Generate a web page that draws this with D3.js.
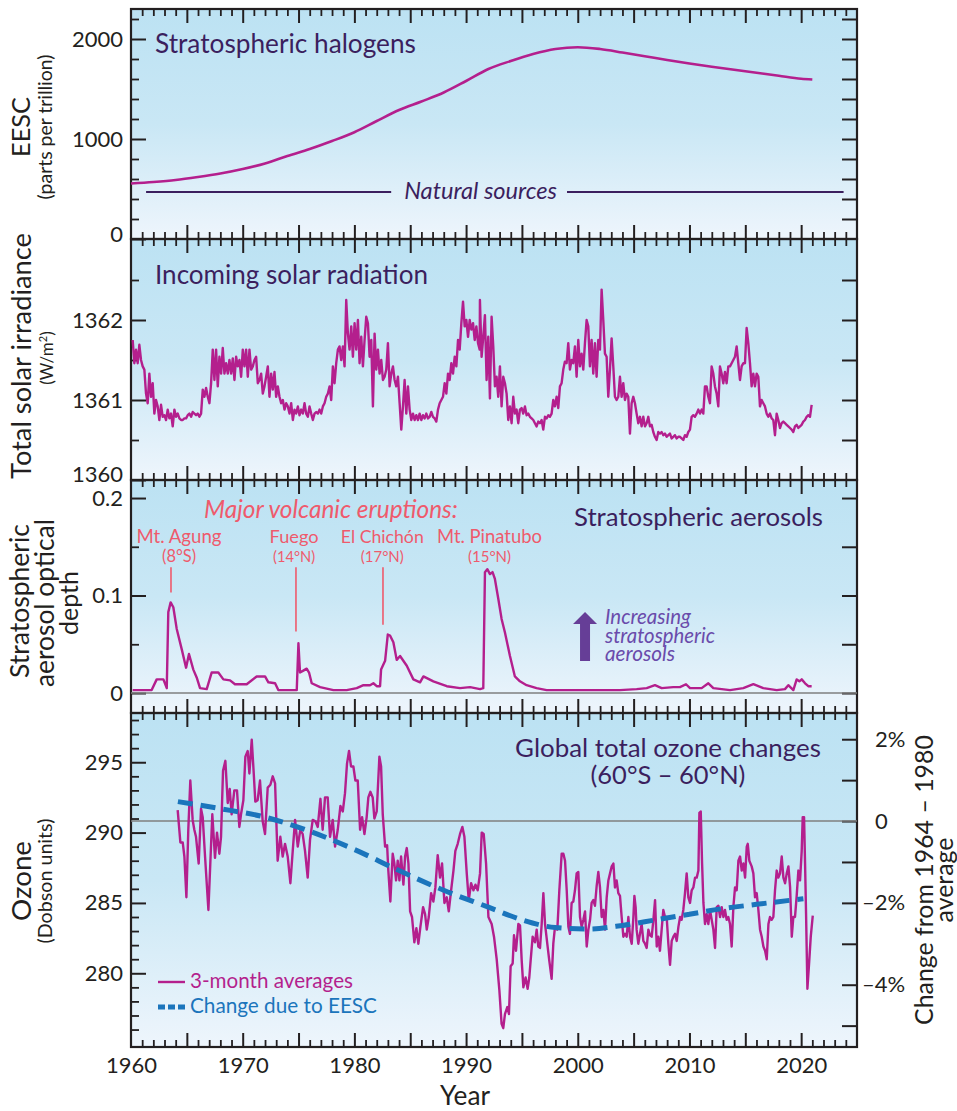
<!DOCTYPE html>
<html><head><meta charset="utf-8">
<script src="https://cdn.jsdelivr.net/npm/d3@7"></script>
<style>
body{margin:0;background:#fff;}
svg{display:block;font-family:Lato,"Open Sans",sans-serif;}
</style></head><body>
<svg id="chart" width="957" height="1111"></svg>
<script>
// ---------------- DATA ----------------
const eescYears  = [1960,1962,1964,1966,1968,1970,1972,1974,1976,1978,1980,1982,1984,1986,1988,1990,1992,1994,1996,1998,2000,2002,2004,2006,2008,2010,2012,2014,2016,2018,2020,2021];
const eescValues = [555,570,590,620,655,700,755,830,900,980,1068,1180,1290,1375,1465,1580,1700,1780,1850,1900,1918,1900,1865,1828,1790,1755,1722,1692,1662,1632,1603,1595];
const naturalEESC = 470;
const naturalSpan = [1961.35, 2023.8];

// Total solar irradiance, evenly sampled within each span
const tsiSpanEarly = [1960.15, 1991.22];
const tsiEarly = [1361.75,1361.46,1361.63,1361.46,1361.69,1361.50,1361.42,1361.38,1361.08,1360.96,1361.33,1361.04,1361.21,1360.83,1361.00,1360.92,1360.75,1360.94,1360.79,1360.81,1360.75,1360.88,1360.77,1360.83,1360.67,1360.88,1360.79,1360.83,1360.77,1360.75,1360.75,1360.77,1360.77,1360.81,1360.83,1360.79,1360.85,1360.83,1360.81,1360.83,1360.79,1360.83,1361.13,1361.04,1361.15,1361.04,1360.96,1361.21,1361.63,1361.25,1361.63,1361.17,1361.54,1361.33,1361.65,1361.33,1361.46,1361.33,1361.50,1361.33,1361.52,1361.25,1361.54,1361.42,1361.50,1361.29,1361.63,1361.42,1361.63,1361.29,1361.63,1361.38,1361.42,1361.50,1361.54,1361.21,1361.25,1361.33,1361.08,1361.17,1361.29,1361.42,1361.04,1361.33,1361.13,1361.35,1361.04,1361.17,1361.04,1360.96,1361.00,1360.88,1360.96,1360.92,1360.83,1360.96,1360.75,1360.88,1360.83,1360.92,1360.81,1360.88,1360.83,1360.96,1360.83,1360.79,1360.92,1360.83,1360.75,1360.83,1360.85,1360.83,1360.88,1360.83,1360.92,1360.96,1361.04,1361.08,1361.17,1361.00,1361.42,1361.21,1361.46,1361.63,1361.67,1361.50,1361.67,1361.42,1362.25,1361.83,1361.63,1361.92,1361.54,1361.96,1361.63,1362.00,1361.46,1361.79,1361.42,1361.75,1362.04,1361.96,1361.54,1361.75,1360.92,1361.83,1361.38,1361.63,1361.33,1361.50,1361.25,1361.29,1361.38,1361.71,1361.17,1361.33,1361.42,1361.25,1361.17,1361.29,1360.96,1360.63,1360.92,1361.25,1360.83,1361.17,1360.88,1360.75,1360.83,1360.75,1360.81,1360.75,1360.83,1360.75,1360.81,1360.77,1360.83,1360.77,1360.79,1360.85,1360.79,1360.77,1360.73,1360.88,1360.96,1361.00,1361.04,1361.21,1361.08,1361.33,1361.25,1361.46,1361.33,1361.54,1361.42,1361.75,1361.63,1361.96,1362.23,1361.92,1362.00,1361.79,1362.00,1361.88,1361.96,1361.75,1361.92,1361.71,1361.63];
const tsiSpanLate = [1991.24, 2020.94];
const tsiLate = [1362.25,1361.54,1361.79,1362.06,1361.25,1361.79,1361.02,1362.04,1361.67,1361.17,1361.29,1361.04,1361.42,1360.92,1361.29,1361.21,1361.08,1360.75,1360.92,1360.71,1361.04,1360.83,1360.88,1360.71,1360.88,1360.90,1360.83,1360.92,1360.81,1360.83,1360.79,1360.77,1360.75,1360.71,1360.67,1360.73,1360.71,1360.75,1360.63,1360.79,1360.77,1360.81,1360.79,1360.83,1361.00,1360.92,1361.04,1360.90,1361.17,1361.21,1361.38,1361.48,1361.46,1361.71,1361.38,1361.50,1361.46,1361.67,1361.29,1361.75,1361.42,1361.58,1361.38,1361.71,1362.00,1361.92,1361.42,1361.75,1361.33,1361.71,1361.29,1361.75,1361.63,1362.38,1362.00,1361.58,1361.54,1361.04,1361.38,1361.77,1361.42,1361.04,1361.00,1361.04,1361.29,1361.04,1361.21,1361.00,1361.08,1361.04,1360.58,1360.96,1361.04,1360.96,1360.83,1360.71,1360.79,1360.67,1360.79,1360.67,1360.71,1360.79,1360.67,1360.69,1360.60,1360.54,1360.50,1360.60,1360.58,1360.60,1360.56,1360.58,1360.54,1360.56,1360.58,1360.52,1360.54,1360.56,1360.52,1360.54,1360.54,1360.52,1360.50,1360.56,1360.54,1360.60,1360.63,1360.79,1360.81,1360.79,1360.83,1360.88,1360.83,1360.88,1360.83,1361.17,1361.17,1361.04,1360.96,1361.42,1361.33,1361.17,1361.08,1360.92,1361.42,1361.33,1361.21,1361.35,1361.21,1361.42,1361.42,1361.46,1361.50,1361.54,1361.67,1361.46,1361.25,1361.42,1361.46,1361.46,1361.90,1361.71,1361.46,1361.17,1361.33,1361.17,1361.33,1361.29,1360.92,1361.00,1360.96,1360.92,1360.83,1360.79,1360.83,1360.77,1360.75,1360.56,1360.83,1360.75,1360.65,1360.71,1360.73,1360.71,1360.69,1360.67,1360.65,1360.63,1360.60,1360.67,1360.69,1360.65,1360.67,1360.69,1360.73,1360.75,1360.79,1360.81,1360.79,1360.94];

// Stratospheric aerosol optical depth [year, AOD]
const aerosolAOD = [[1960.15,0.003],[1961.85,0.003],[1962.3,0.014],[1962.9,0.014],[1963.2,0.005],[1963.34,0.083],[1963.55,0.093],[1963.79,0.088],[1964.09,0.066],[1964.54,0.045],[1964.93,0.026],[1965.19,0.040],[1965.58,0.024],[1965.88,0.016],[1966.18,0.005],[1966.78,0.004],[1967.22,0.021],[1967.82,0.021],[1968.27,0.014],[1968.87,0.013],[1969.31,0.009],[1970.36,0.009],[1971.25,0.017],[1972.0,0.017],[1972.3,0.011],[1972.9,0.010],[1973.19,0.003],[1974.84,0.003],[1974.99,0.051],[1975.13,0.021],[1975.43,0.023],[1975.73,0.025],[1975.94,0.021],[1976.18,0.010],[1976.93,0.006],[1978.12,0.003],[1979.31,0.003],[1980.21,0.005],[1980.81,0.008],[1981.4,0.008],[1981.7,0.010],[1982.0,0.007],[1982.3,0.007],[1982.39,0.024],[1982.75,0.033],[1982.99,0.060],[1983.19,0.059],[1983.49,0.052],[1983.79,0.034],[1984.09,0.038],[1984.69,0.028],[1985.28,0.014],[1985.88,0.011],[1986.18,0.017],[1987.07,0.012],[1988.27,0.007],[1989.46,0.005],[1990.36,0.006],[1991.25,0.004],[1991.54,0.005],[1991.69,0.124],[1991.9,0.127],[1992.14,0.122],[1992.37,0.124],[1992.58,0.117],[1992.88,0.097],[1993.18,0.076],[1993.48,0.062],[1993.93,0.038],[1994.37,0.017],[1994.82,0.012],[1995.42,0.008],[1996.31,0.005],[1997.21,0.003],[1998.7,0.003],[2000.2,0.003],[2001.69,0.003],[2003.78,0.003],[2005.27,0.004],[2006.17,0.005],[2006.91,0.008],[2007.51,0.005],[2008.55,0.006],[2009.15,0.006],[2009.69,0.009],[2010.05,0.005],[2011.09,0.005],[2011.69,0.010],[2012.14,0.005],[2013.63,0.003],[2014.82,0.005],[2015.72,0.009],[2016.61,0.005],[2017.81,0.003],[2018.55,0.004],[2018.85,0.008],[2019.3,0.003],[2019.6,0.014],[2019.84,0.012],[2020.05,0.014],[2020.35,0.010],[2020.64,0.007],[2020.94,0.007]];

const eruptionNames = ["Mt. Agung","Fuego","El Chichón","Mt. Pinatubo"];
const eruptionLats  = ["(8°S)","(14°N)","(17°N)","(15°N)"];
const eruptionYears = [1963.58,1974.77,1982.56,null];
const eruptionLabelYears = [1964.3,1974.6,1982.5,1992.1];
const eruptionLineTop = 0.129;
const eruptionLineBottom = [0.103,0.063,0.070,null];

// Ozone 3-month averages [year, DU]
const ozone3mo = [[1964.18,291.6],[1964.42,289.3],[1964.63,289.3],[1964.78,288.3],[1964.96,285.4],[1965.13,290.2],[1965.31,293.7],[1965.52,290.9],[1965.67,290.2],[1965.82,289.7],[1966.06,287.8],[1966.27,291.7],[1966.42,291.1],[1966.63,288.3],[1966.93,284.5],[1967.10,287.8],[1967.28,291.3],[1967.52,288.2],[1967.70,290.0],[1967.91,288.5],[1968.06,289.7],[1968.24,294.4],[1968.45,295.1],[1968.66,292.1],[1968.84,293.1],[1969.01,291.3],[1969.25,293.0],[1969.49,293.0],[1969.70,290.4],[1969.85,291.3],[1970.06,292.3],[1970.24,295.4],[1970.45,295.8],[1970.60,294.2],[1970.81,296.6],[1970.99,294.2],[1971.13,292.2],[1971.34,292.3],[1971.55,293.7],[1971.79,290.8],[1972.00,289.9],[1972.24,293.2],[1972.48,293.4],[1972.69,294.0],[1972.90,293.5],[1973.13,288.0],[1973.37,289.7],[1973.58,288.3],[1973.79,289.2],[1974.03,288.3],[1974.27,286.4],[1974.48,288.7],[1974.69,290.9],[1974.93,289.0],[1975.16,290.2],[1975.37,289.9],[1975.58,288.7],[1975.82,286.8],[1976.03,289.5],[1976.27,290.9],[1976.51,290.8],[1976.72,290.4],[1976.96,292.4],[1977.16,290.2],[1977.37,292.5],[1977.61,292.5],[1977.82,289.7],[1978.06,290.9],[1978.27,289.0],[1978.51,290.2],[1978.75,291.9],[1978.96,291.5],[1979.16,292.8],[1979.34,294.9],[1979.52,295.8],[1979.70,294.7],[1979.91,294.7],[1980.09,293.7],[1980.30,293.7],[1980.51,290.2],[1980.69,291.1],[1980.90,289.9],[1981.10,291.1],[1981.25,292.5],[1981.43,292.9],[1981.64,292.5],[1981.79,291.0],[1982.00,291.5],[1982.24,295.4],[1982.39,294.7],[1982.54,291.3],[1982.75,289.0],[1982.93,289.1],[1983.04,287.3],[1983.22,285.1],[1983.43,288.5],[1983.58,287.8],[1983.73,286.6],[1983.88,288.0],[1984.03,286.6],[1984.18,288.3],[1984.39,286.3],[1984.54,288.3],[1984.69,288.9],[1984.84,287.8],[1984.99,284.4],[1985.16,284.0],[1985.37,282.2],[1985.55,283.2],[1985.73,282.1],[1985.91,283.3],[1986.15,284.7],[1986.33,284.2],[1986.48,283.1],[1986.66,284.0],[1986.87,285.7],[1987.07,285.1],[1987.25,286.1],[1987.46,288.4],[1987.67,286.8],[1987.85,287.8],[1988.06,285.0],[1988.27,285.4],[1988.45,284.4],[1988.66,285.9],[1988.87,287.3],[1989.04,288.7],[1989.25,289.2],[1989.46,289.9],[1989.67,290.4],[1989.85,289.7],[1990.06,287.1],[1990.24,285.2],[1990.45,286.4],[1990.66,285.9],[1990.84,286.3],[1991.04,285.9],[1991.25,287.1],[1991.40,290.0],[1991.58,289.9],[1991.79,287.8],[1992.00,284.0],[1992.29,283.5],[1992.50,282.6],[1992.74,281.0],[1992.98,278.8],[1993.18,276.4],[1993.33,276.1],[1993.48,277.1],[1993.69,277.6],[1993.84,277.1],[1993.99,280.5],[1994.17,280.7],[1994.29,282.7],[1994.47,281.6],[1994.68,283.5],[1994.83,283.4],[1994.98,280.9],[1995.13,279.0],[1995.33,279.7],[1995.51,278.9],[1995.66,279.7],[1995.78,280.9],[1995.96,282.6],[1996.17,282.2],[1996.32,283.1],[1996.47,281.9],[1996.62,281.8],[1996.77,283.5],[1996.92,285.7],[1997.07,283.5],[1997.27,282.1],[1997.45,280.9],[1997.66,279.6],[1997.81,282.1],[1997.96,283.3],[1998.17,283.1],[1998.35,285.9],[1998.56,288.5],[1998.71,288.5],[1998.86,288.0],[1999.01,285.9],[1999.16,283.3],[1999.30,282.8],[1999.45,285.0],[1999.60,285.1],[1999.75,285.9],[1999.90,287.1],[2000.05,287.2],[2000.20,284.0],[2000.35,283.3],[2000.50,283.8],[2000.65,284.4],[2000.80,281.9],[2000.95,283.1],[2001.10,283.8],[2001.24,285.0],[2001.39,285.2],[2001.54,284.8],[2001.69,286.2],[2001.84,287.2],[2001.99,286.1],[2002.14,284.0],[2002.29,284.5],[2002.44,283.1],[2002.59,285.4],[2002.74,286.6],[2002.89,287.1],[2003.04,287.6],[2003.19,287.8],[2003.33,286.1],[2003.48,286.6],[2003.63,285.7],[2003.78,285.5],[2003.93,284.0],[2004.08,282.6],[2004.23,282.8],[2004.38,282.6],[2004.53,284.0],[2004.68,282.6],[2004.83,282.1],[2004.98,284.0],[2005.07,285.5],[2005.18,284.7],[2005.27,283.1],[2005.42,282.1],[2005.57,282.8],[2005.72,283.5],[2005.87,282.3],[2006.02,282.1],[2006.17,281.8],[2006.32,283.1],[2006.47,282.7],[2006.62,282.6],[2006.77,283.8],[2006.92,285.2],[2007.07,281.9],[2007.21,282.6],[2007.36,281.6],[2007.51,283.1],[2007.66,284.5],[2007.81,284.0],[2007.96,284.0],[2008.11,282.1],[2008.26,280.6],[2008.41,282.3],[2008.56,282.6],[2008.71,282.8],[2008.86,282.3],[2009.01,283.3],[2009.16,284.0],[2009.30,283.8],[2009.45,284.5],[2009.60,285.7],[2009.75,287.1],[2009.90,285.4],[2010.05,285.0],[2010.20,285.9],[2010.35,286.1],[2010.50,286.8],[2010.65,286.8],[2010.80,287.3],[2010.89,291.4],[2011.01,291.5],[2011.13,287.8],[2011.25,285.0],[2011.39,283.5],[2011.54,284.2],[2011.69,283.5],[2011.84,284.5],[2011.99,283.8],[2012.14,283.1],[2012.29,281.8],[2012.44,284.7],[2012.59,284.8],[2012.74,284.0],[2012.89,284.7],[2013.04,284.0],[2013.18,284.5],[2013.33,283.8],[2013.48,284.0],[2013.63,283.5],[2013.78,281.9],[2013.93,284.7],[2014.08,286.1],[2014.23,285.9],[2014.38,288.0],[2014.53,288.3],[2014.68,287.3],[2014.83,287.8],[2014.98,286.8],[2015.13,289.0],[2015.22,289.2],[2015.36,288.0],[2015.57,287.6],[2015.72,287.1],[2015.87,285.4],[2016.02,285.7],[2016.17,284.5],[2016.32,283.1],[2016.47,282.6],[2016.62,281.9],[2016.77,281.6],[2016.92,281.0],[2017.07,283.5],[2017.21,284.0],[2017.36,283.8],[2017.51,284.0],[2017.66,285.9],[2017.81,287.3],[2017.96,286.8],[2018.11,287.1],[2018.26,288.3],[2018.41,286.8],[2018.56,286.4],[2018.71,287.1],[2018.86,287.6],[2019.01,286.1],[2019.16,282.6],[2019.30,284.0],[2019.45,284.0],[2019.60,285.5],[2019.75,287.3],[2019.90,286.6],[2020.05,288.7],[2020.14,291.1],[2020.26,291.1],[2020.35,287.8],[2020.44,284.2],[2020.56,278.9],[2020.71,280.7],[2020.86,282.6],[2021.04,284.1]];

// Ozone change expected from EESC [year, DU]
const ozoneEESC = [[1964.2,292.2],[1968,291.7],[1972,291.1],[1976,290.1],[1980,288.8],[1984,287.3],[1988,285.9],[1992,284.7],[1995,283.8],[1998,283.25],[2001,283.15],[2004,283.4],[2007,283.8],[2010,284.2],[2013,284.6],[2016,284.9],[2020.2,285.3]];
const ozoneBaseline = 290.82; // 1964–1980 average (DU)

// Tick values
const yearLabels = [1960,1970,1980,1990,2000,2010,2020];
const eescTicks = [0,1000,2000];
const tsiTicks = [1360,1361,1362];
const aodTicks = [0,0.1,0.2];
const ozoneTicks = [280,285,290,295];
const pctTicks = [2,0,-2,-4];

// ---------------- DRAWING ----------------
const svg = d3.select("#chart");
const X0 = 131, X1 = 857;
const INK = "#231f20", MAG = "#b41f8d", BLUE = "#1b75bc", PURPLE = "#3b1f5e", CORAL = "#ef5a6c";
const TICKFS = 22;
const x = d3.scaleLinear().domain([1960, 2025]).range([X0, X1]);
const panels = [{top:9,bottom:239},{top:239,bottom:480},{top:480,bottom:713},{top:713,bottom:1047}];

const yE = d3.scaleLinear().domain([0, 2300]).range([239, 9]);
const yT = d3.scaleLinear().domain([1360, 1363]).range([480, 240]);
const yA = d3.scaleLinear().domain([-0.0205, 0.2185]).range([713, 480]);
const yO = d3.scaleLinear().domain([274.76, 298.5]).range([1047, 713]);
const yP = d3.scaleLinear().domain([(274.76/ozoneBaseline-1)*100, (298.5/ozoneBaseline-1)*100]).range([1047, 713]);

// fit a text to a target width (layout helper)
function fit(sel, w){
  const cur = sel.node().getComputedTextLength();
  if (cur > 0) sel.attr("font-size", (+sel.attr("font-size")) * w / cur);
  return sel;
}

const defs = svg.append("defs");
const grad = defs.append("linearGradient").attr("id","bg").attr("x1",0).attr("y1",0).attr("x2",0).attr("y2",1);
grad.selectAll("stop").data([[0,"#bce2f3"],[0.5,"#c9e7f5"],[1,"#eef5fc"]]).join("stop")
  .attr("offset",d=>d[0]).attr("stop-color",d=>d[1]);

panels.forEach(p => svg.append("rect").attr("x",X0).attr("y",p.top)
  .attr("width",X1-X0).attr("height",p.bottom-p.top).attr("fill","url(#bg)"));

function styleAxis(g, w){
  g.select(".domain").remove();
  g.selectAll(".tick line").attr("stroke",INK).attr("stroke-width",w||2);
  g.selectAll(".tick text").attr("fill",INK).attr("font-family","Lato, sans-serif");
}

// x ticks on every panel edge (inward)
const yearMinor = d3.range(1961, 2025).filter(d => d % 5 !== 0);
const yearMajor = d3.range(1965, 2025, 5);
panels.forEach(p => {
  svg.append("g").attr("transform",`translate(0,${p.top})`)
    .call(d3.axisBottom(x).tickValues(yearMinor).tickSize(7).tickFormat("")).call(g=>styleAxis(g,1.8));
  svg.append("g").attr("transform",`translate(0,${p.top})`)
    .call(d3.axisBottom(x).tickValues(yearMajor).tickSize(14).tickFormat("")).call(g=>styleAxis(g,2));
  svg.append("g").attr("transform",`translate(0,${p.bottom})`)
    .call(d3.axisTop(x).tickValues(yearMinor).tickSize(7).tickFormat("")).call(g=>styleAxis(g,1.8));
  svg.append("g").attr("transform",`translate(0,${p.bottom})`)
    .call(d3.axisTop(x).tickValues(yearMajor).tickSize(14).tickFormat("")).call(g=>styleAxis(g,2));
});
// year labels
svg.append("g").attr("transform",`translate(0,${panels[3].bottom})`)
  .call(d3.axisBottom(x).tickValues(yearLabels).tickSize(0).tickPadding(10).tickFormat(d3.format("d")))
  .call(g=>{styleAxis(g); g.selectAll("text").attr("font-size",TICKFS);});

// left/right y axes
function yAxes(scale, major, minor, rightTicks, fmt){
  const g = svg.append("g").attr("transform",`translate(${X0},0)`)
    .call(d3.axisLeft(scale).tickValues(major).tickSize(-15).tickPadding(8).tickFormat(fmt))
    .call(g=>{styleAxis(g); g.selectAll("text").attr("font-size",TICKFS);});
  svg.append("g").attr("transform",`translate(${X0},0)`)
    .call(d3.axisLeft(scale).tickValues(minor).tickSize(-8).tickFormat("")).call(g=>styleAxis(g,1.8));
  svg.append("g").attr("transform",`translate(${X1},0)`)
    .call(d3.axisRight(scale).tickValues(rightTicks).tickSize(-15).tickFormat("")).call(g=>styleAxis(g));
  return g;
}
const gE = yAxes(yE, eescTicks, d3.range(200,2300,200).filter(d=>d%1000!==0), d3.range(200,2300,200), d3.format("d"));
gE.selectAll(".tick text").filter(d=>d===0).attr("dy","0.1em");
const gT = yAxes(yT, tsiTicks, [1360.5,1361.5,1362.5], [1360.5,1361,1361.5,1362,1362.5], d3.format("d"));
gT.selectAll(".tick text").filter(d=>d===1360).attr("dy","0.05em");
yAxes(yA, aodTicks, [0.05,0.15], [0,0.05,0.1,0.15,0.2], d=> d===0?"0":d3.format(".1f")(d));
yAxes(yO, ozoneTicks, d3.range(275,299).filter(d=>d%5!==0), [], d3.format("d"));
// right percent axis
svg.append("g").attr("transform",`translate(${X1},0)`)
  .call(d3.axisRight(yP).tickValues(d3.range(-5,3)).tickSize(-15).tickFormat("")).call(g=>styleAxis(g));
const pctG = svg.append("g").attr("transform",`translate(${X1},0)`)
  .call(d3.axisRight(yP).tickValues(pctTicks).tickSize(0).tickPadding(18)
    .tickFormat(d => d===0 ? "0" : (d>0 ? d+"%" : "\u2013"+Math.abs(d)+"%")))
  .call(g=>{styleAxis(g); g.selectAll("text").attr("font-size",TICKFS);});
pctG.selectAll(".tick text").filter(d=>d<0).attr("x",5);

// frames
panels.forEach(p => svg.append("rect").attr("x",X0).attr("y",p.top)
  .attr("width",X1-X0).attr("height",p.bottom-p.top).attr("fill","none")
  .attr("stroke",INK).attr("stroke-width",2.2));

// ---- Panel 1: EESC
const eescData = eescYears.map((yr,i)=>[yr, eescValues[i]]);
svg.append("path").datum(eescData).attr("fill","none").attr("stroke",MAG).attr("stroke-width",2.6)
  .attr("d", d3.line().x(d=>x(d[0])).y(d=>yE(d[1])).curve(d3.curveMonotoneX));
fit(svg.append("text").attr("x",155).attr("y",53).attr("font-size",23).attr("fill",PURPLE).text("Stratospheric halogens"), 261);
const natText = fit(svg.append("text").attr("x",x(1991.3)).attr("y",yE(naturalEESC)+7).attr("text-anchor","middle")
  .attr("font-size",20).attr("font-style","italic").attr("fill",PURPLE).text("Natural sources"), 153);
const nb = natText.node().getBBox();
svg.append("line").attr("x1",x(naturalSpan[0])).attr("x2",nb.x-13).attr("y1",yE(naturalEESC)).attr("y2",yE(naturalEESC))
  .attr("stroke",PURPLE).attr("stroke-width",2);
svg.append("line").attr("x1",nb.x+nb.width+10).attr("x2",x(naturalSpan[1])).attr("y1",yE(naturalEESC)).attr("y2",yE(naturalEESC))
  .attr("stroke",PURPLE).attr("stroke-width",2);

// ---- Panel 2: TSI
function spanSeries(vals, span){ const n=vals.length; return vals.map((v,i)=>[span[0]+(span[1]-span[0])*i/(n-1), v]); }
const tsiData = spanSeries(tsiEarly, tsiSpanEarly).concat(spanSeries(tsiLate, tsiSpanLate));
svg.append("path").datum(tsiData).attr("fill","none").attr("stroke",MAG).attr("stroke-width",2.4).attr("stroke-linejoin","round")
  .attr("d", d3.line().x(d=>x(d[0])).y(d=>yT(d[1])));
fit(svg.append("text").attr("x",155).attr("y",284).attr("font-size",23).attr("fill",PURPLE).text("Incoming solar radiation"), 273);

// ---- Panel 3: aerosols
svg.append("line").attr("x1",X0).attr("x2",X1).attr("y1",yA(0)).attr("y2",yA(0)).attr("stroke","#7f7f7f").attr("stroke-width",1.5);
svg.append("path").datum(aerosolAOD).attr("fill","none").attr("stroke",MAG).attr("stroke-width",2.4).attr("stroke-linejoin","round")
  .attr("d", d3.line().x(d=>x(d[0])).y(d=>yA(d[1])));
fit(svg.append("text").attr("x",823).attr("y",526).attr("text-anchor","end").attr("font-size",23).attr("fill",PURPLE).text("Stratospheric aerosols"), 249);
fit(svg.append("text").attr("x",331).attr("y",518).attr("text-anchor","middle").attr("font-size",20).attr("font-style","italic")
  .attr("fill",CORAL).text("Major volcanic eruptions:"), 254);
const nameW = [85,49,83,105], latW = [34,42,43,43];
eruptionNames.forEach((nm,i)=>{
  fit(svg.append("text").attr("x",x(eruptionLabelYears[i])).attr("y",543).attr("text-anchor","middle")
    .attr("font-size",16).attr("fill",CORAL).text(nm), nameW[i]);
  fit(svg.append("text").attr("x",x(eruptionLabelYears[i])).attr("y",562).attr("text-anchor","middle")
    .attr("font-size",15).attr("fill",CORAL).text(eruptionLats[i]), latW[i]);
  if (eruptionYears[i] !== null) {
    svg.append("line").attr("x1",x(eruptionYears[i])).attr("x2",x(eruptionYears[i]))
      .attr("y1",yA(eruptionLineTop)).attr("y2",yA(eruptionLineBottom[i]))
      .attr("stroke",CORAL).attr("stroke-width",1.6);
  }
});
// arrow
const ax = x(2000.65);
svg.append("path").attr("fill","#663e97")
  .attr("d",`M${ax},612 L${ax+12},624 L${ax+5},624 L${ax+5},661 L${ax-5},661 L${ax-5},624 L${ax-12},624 Z`);
const incW = [86,110,70];
["Increasing","stratospheric","aerosols"].forEach((t,i)=>{
  fit(svg.append("text").attr("x",605).attr("y",624+i*18.5).attr("font-size",17).attr("font-style","italic")
    .attr("fill","#6a4bab").text(t), incW[i]);
});

// ---- Panel 4: ozone
svg.append("line").attr("x1",X0).attr("x2",X1).attr("y1",yO(ozoneBaseline)).attr("y2",yO(ozoneBaseline)).attr("stroke","#7f7f7f").attr("stroke-width",1.5);
svg.append("path").datum(ozone3mo).attr("fill","none").attr("stroke",MAG).attr("stroke-width",2.4).attr("stroke-linejoin","round")
  .attr("d", d3.line().x(d=>x(d[0])).y(d=>yO(d[1])));
svg.append("path").datum(ozoneEESC).attr("fill","none").attr("stroke",BLUE).attr("stroke-width",5).attr("stroke-dasharray","15,8")
  .attr("d", d3.line().x(d=>x(d[0])).y(d=>yO(d[1])).curve(d3.curveMonotoneX));
fit(svg.append("text").attr("x",668).attr("y",757).attr("text-anchor","middle").attr("font-size",23).attr("fill",PURPLE).text("Global total ozone changes"), 306);
fit(svg.append("text").attr("x",668).attr("y",784).attr("text-anchor","middle").attr("font-size",23).attr("fill",PURPLE).text("(60°S \u2013 60°N)"), 155);
// legend
svg.append("line").attr("x1",158).attr("x2",185).attr("y1",982).attr("y2",982).attr("stroke",MAG).attr("stroke-width",2.4);
fit(svg.append("text").attr("x",190).attr("y",988).attr("font-size",18).attr("fill",MAG).text("3-month averages"), 163);
svg.append("line").attr("x1",158).attr("x2",185).attr("y1",1007).attr("y2",1007).attr("stroke",BLUE).attr("stroke-width",5).attr("stroke-dasharray","7,3");
fit(svg.append("text").attr("x",190).attr("y",1013).attr("font-size",18).attr("fill",BLUE).text("Change due to EESC"), 187);

// ---- axis titles
function vText(xb, yc, txt, size, w){
  const t = svg.append("text").attr("transform",`translate(${xb},${yc}) rotate(-90)`).attr("text-anchor","middle")
    .attr("font-size",size).attr("fill",INK).text(txt);
  return w ? fit(t, w) : t;
}
vText(30,127,"EESC",28,60);
vText(52,127,"(parts per trillion)",16,145);
vText(31,356,"Total solar irradiance",27,246);
const wm = vText(53,358,"(W/m",17); wm.append("tspan").attr("dy",-6).attr("font-size",11).text("2"); wm.append("tspan").attr("dy",6).text(")");
vText(29,601,"Stratospheric",26,154);
vText(54,603,"aerosol optical",26,168);
vText(78,603,"depth",26,64);
vText(31,881,"Ozone",28,80);
vText(52,881,"(Dobson units)",16,125);
const chg = vText(933,880,"Change from 1964 \u2013 1980",24,290);
vText(953,880,"average",+chg.attr("font-size"));
fit(svg.append("text").attr("x",465).attr("y",1105).attr("text-anchor","middle").attr("font-size",25).attr("fill",INK).text("Year"), 50);
</script>
</body></html>
